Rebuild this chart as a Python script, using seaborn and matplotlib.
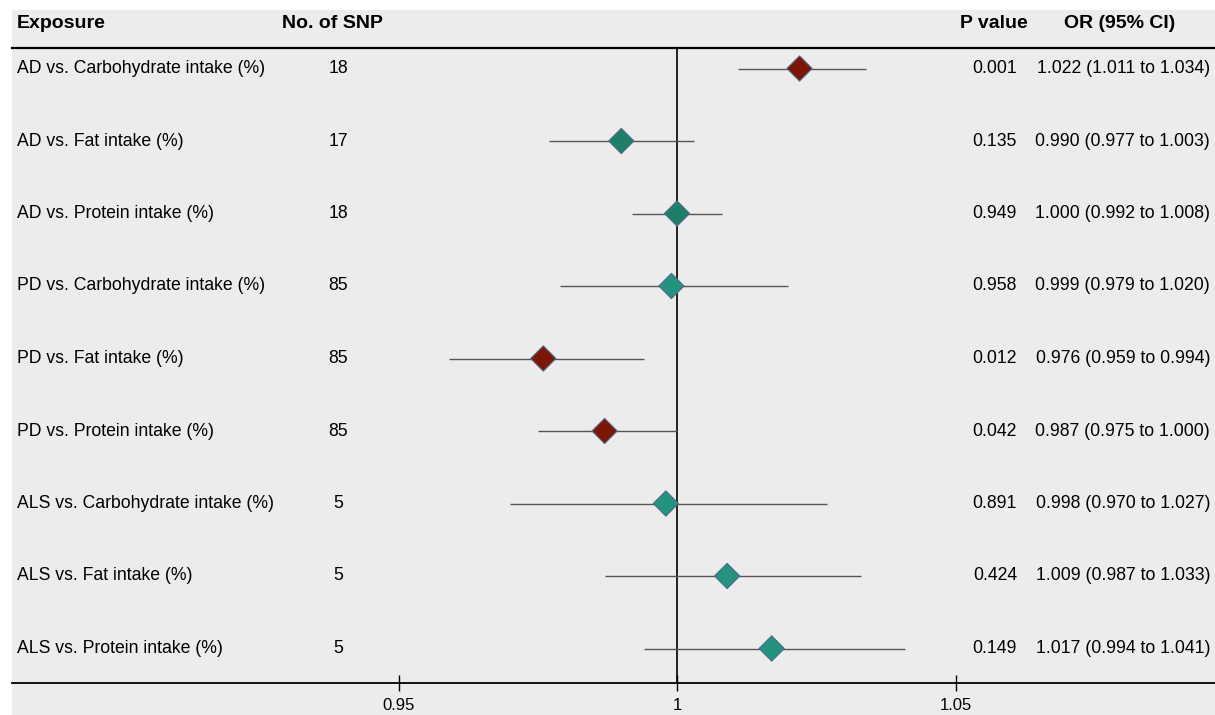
import matplotlib
matplotlib.use("Agg")
import matplotlib.pyplot as plt
import seaborn as sns
import pandas as pd
from matplotlib.patches import Rectangle

exposures = ["AD vs. Carbohydrate intake (%)", "AD vs. Fat intake (%)", "AD vs. Protein intake (%)",
             "PD vs. Carbohydrate intake (%)", "PD vs. Fat intake (%)", "PD vs. Protein intake (%)",
             "ALS vs. Carbohydrate intake (%)", "ALS vs. Fat intake (%)", "ALS vs. Protein intake (%)"]
n_snp = [18, 17, 18, 85, 85, 85, 5, 5, 5]
p_values = ["0.001", "0.135", "0.949", "0.958", "0.012", "0.042", "0.891", "0.424", "0.149"]
or_est = [1.022, 0.990, 1.000, 0.999, 0.976, 0.987, 0.998, 1.009, 1.017]
ci_low = [1.011, 0.977, 0.992, 0.979, 0.959, 0.975, 0.970, 0.987, 0.994]
ci_high = [1.034, 1.003, 1.008, 1.020, 0.994, 1.000, 1.027, 1.033, 1.041]
marker_colors = ["#7d1606", "#1e7e68", "#1e7e68", "#23927f", "#7d1606", "#7d1606",
                 "#23927f", "#23927f", "#23927f"]
x_ticks = [0.95, 1.0, 1.05]
x_tick_labels = ["0.95", "1", "1.05"]

df = pd.DataFrame({"exposure": exposures, "row": list(range(len(exposures))),
                   "or": or_est, "lo": ci_low, "hi": ci_high, "snp": n_snp, "p": p_values})

W, H = 1215, 715
fig = plt.figure(figsize=(W / 100, H / 100), dpi=100)
FONT = ["Liberation Sans", "DejaVu Sans"]
plt.rcParams["font.family"] = FONT

# gray panel
fig.patches.append(Rectangle((12 / W, 0), 1 - 12 / W, (H - 10) / H, transform=fig.transFigure,
                             facecolor="#ececec", edgecolor="none", zorder=-10))

ax_left, ax_right = 12, 1215
ax_top, ax_bot = 48, 683
ax = fig.add_axes([ax_left / W, 1 - ax_bot / H, (ax_right - ax_left) / W, (ax_bot - ax_top) / H])
ax.set_facecolor("none")

px_per_unit = 5570.0
x0_px = 677
ax.set_xlim(1 - (x0_px - ax_left) / px_per_unit, 1 + (ax_right - x0_px) / px_per_unit)
row_px0, row_step = 68.5, 72.5
ax.set_ylim((ax_bot - row_px0) / row_step, (ax_top - row_px0) / row_step)

ax.axvline(1.0, color="black", lw=1.2, zorder=1)
ax.hlines(df["row"], df["lo"], df["hi"], color="#555555", lw=1.0, zorder=2)
sns.scatterplot(data=df, x="or", y="row", hue="exposure", palette=marker_colors, marker="D",
                s=165, edgecolor="#4f6a8a", linewidth=0.8, legend=False, ax=ax, zorder=3)

for s in ["left", "right"]:
    ax.spines[s].set_visible(False)
ax.spines["top"].set_linewidth(1.6)
ax.spines["bottom"].set_linewidth(1.3)
ax.set_xticks(x_ticks)
ax.set_xticklabels(x_tick_labels)
ax.tick_params(axis="x", direction="inout", length=12, width=1.0, pad=5, labelsize=12)
ax.set_yticks([])
ax.set_xlabel("")
ax.set_ylabel("")

fs = 12.7
tr = ax.get_yaxis_transform()
def fx(px):
    return (px - ax_left) / (ax_right - ax_left)

for i, r in df.iterrows():
    ax.text(fx(17), r["row"], r["exposure"], transform=tr, ha="left", va="center", fontsize=fs)
    ax.text(fx(338), r["row"], str(r["snp"]), transform=tr, ha="center", va="center", fontsize=fs)
    ax.text(fx(1017), r["row"], r["p"], transform=tr, ha="right", va="center", fontsize=fs)
    ax.text(fx(1210), r["row"], f"{r['or']:.3f} ({r['lo']:.3f} to {r['hi']:.3f})", transform=tr,
            ha="right", va="center", fontsize=fs)

hy = 1 - 23 / H
hfs = 14
fig.text(17 / W, hy, "Exposure", ha="left", va="center", fontsize=hfs, fontweight="bold")
fig.text(332 / W, hy, "No. of SNP", ha="center", va="center", fontsize=hfs, fontweight="bold")
fig.text(994 / W, hy, "P value", ha="center", va="center", fontsize=hfs, fontweight="bold")
fig.text(1120 / W, hy, "OR (95% CI)", ha="center", va="center", fontsize=hfs, fontweight="bold")

fig.savefig("out.png", dpi=100)
